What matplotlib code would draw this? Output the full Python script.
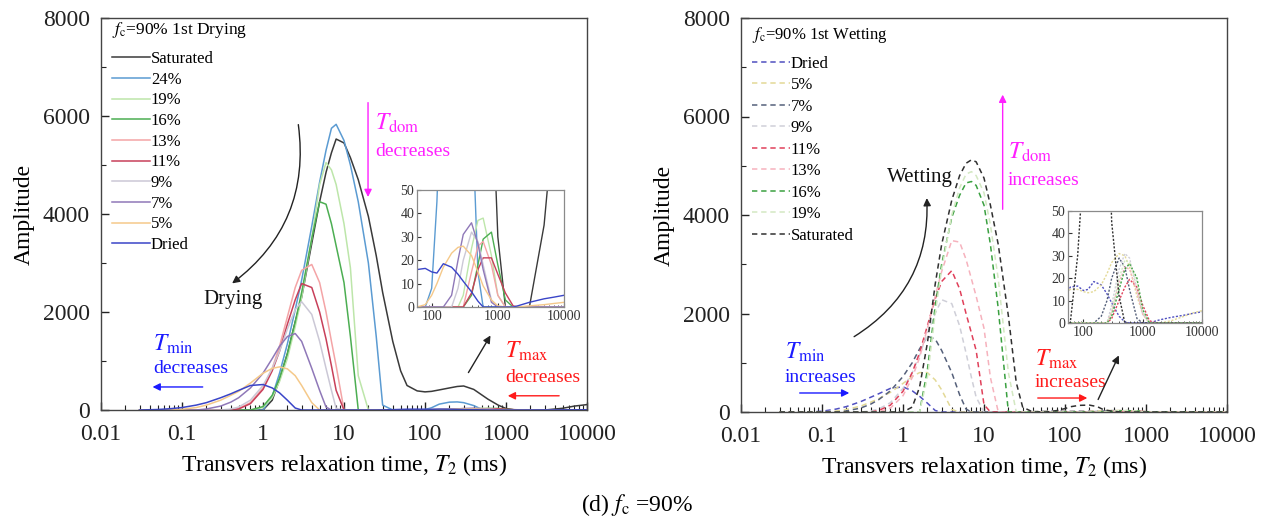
import numpy as np
import matplotlib
matplotlib.use('Agg')
import matplotlib.pyplot as plt
from matplotlib.ticker import LogLocator, NullFormatter, MultipleLocator

plt.rcParams['font.family'] = ['Liberation Serif', 'DejaVu Serif']
plt.rcParams['mathtext.fontset'] = 'stix'

# ---------------- data ----------------
t2_ms = [0.03, 0.05, 0.07, 0.1, 0.15, 0.2, 0.3, 0.4, 0.5, 0.7,
         1, 1.3, 1.6, 2, 2.5, 3, 4, 5, 6, 7,
         8, 10, 12, 15, 20, 25, 30, 40, 50, 60,
         80, 100, 120, 150, 200, 250, 300, 400, 500, 600,
         800, 1000, 1300, 1700, 2000, 3000, 5000, 7000, 10000]

xtick_vals = [0.01, 0.1, 1, 10, 100, 1000, 10000]
xtick_labels = ['0.01', '0.1', '1', '10', '100', '1000', '10000']
ytick_vals = [0, 2000, 4000, 6000, 8000]
inset_xticks = [100, 1000, 10000]
inset_xlabels = ['100', '1000', '10000']
inset_yticks = [0, 10, 20, 30, 40, 50]

drying_labels = ['Saturated', '24%', '19%', '16%', '13%', '11%', '9%', '7%', '5%', 'Dried']
drying_colors = ['#3a3a3a', '#5b9bd2', '#bde6aa', '#4cae52', '#f4a4a6',
                 '#c8405a', '#cbc8d6', '#8f78b8', '#f5c98a', '#3a45c8']

dry_saturated = [0, 0, 0, 0, 0, 0, 0, 0, 0, 0,
                 0, 200, 620, 1150, 1800, 2300, 3400, 4250, 4850, 5250,
                 5530, 5450, 5150, 4700, 3950, 3150, 2400, 1400, 800, 500,
                 390, 370, 380, 410, 450, 480, 490, 420, 310, 220,
                 100, 30, 0, 0, 0, 0, 35, 80, 110]
dry_24 = [0, 0, 0, 0, 0, 0, 0, 0, 0, 0,
          0, 280, 750, 1350, 2050, 2650, 3750, 4650, 5300, 5750,
          5830, 5500, 5000, 4250, 3000, 1500, 100, 0, 0, 0,
          0, 8, 45, 120, 160, 165, 150, 90, 15, 0,
          0, 0, 0, 0, 0, 0, 0, 0, 0]
dry_19 = [0, 0, 0, 0, 0, 0, 0, 0, 0, 0,
          50, 250, 580, 1050, 1700, 2300, 3500, 4600, 5050, 4900,
          4600, 3800, 2900, 700, 0, 0, 0, 0, 0, 0,
          0, 0, 0, 0, 0, 0, 5, 25, 37, 38,
          22, 5, 0, 0, 0, 0, 0, 0, 0]
dry_16 = [0, 0, 0, 0, 0, 0, 0, 0, 0, 0,
          70, 300, 650, 1150, 1800, 2400, 3500, 4250, 4200, 3800,
          3350, 2600, 1500, 0, 0, 0, 0, 0, 0, 0,
          0, 0, 0, 0, 0, 0, 0, 5, 18, 29,
          32, 18, 3, 0, 0, 0, 0, 0, 0]
dry_13 = [0, 0, 0, 0, 0, 0, 0, 0, 30, 150,
          450, 850, 1300, 1900, 2500, 2850, 2970, 2600, 2000, 1400,
          900, 0, 0, 0, 0, 0, 0, 0, 0, 0,
          0, 0, 0, 0, 0, 0, 0, 15, 26, 28,
          18, 5, 0, 0, 0, 0, 0, 0, 0]
dry_11 = [0, 0, 0, 0, 0, 0, 0, 0, 20, 130,
          420, 800, 1200, 1750, 2250, 2580, 2500, 2000, 1450, 900,
          400, 0, 0, 0, 0, 0, 0, 0, 0, 0,
          0, 0, 0, 0, 0, 0, 0, 6, 16, 21,
          21, 14, 6, 0.5, 0, 0, 0, 0, 0]
dry_9 = [0, 0, 0, 0, 0, 0, 0, 20, 60, 200,
         500, 850, 1200, 1650, 2050, 2210, 1950, 1400, 850, 400,
         30, 0, 0, 0, 0, 0, 0, 0, 0, 0,
         0, 0, 0, 0, 0, 8, 20, 32, 28, 18,
         3, 0, 0, 0, 0, 0, 0, 0, 0]
dry_7 = [0, 0, 0, 0, 0, 20, 80, 160, 250, 450,
         750, 1050, 1300, 1500, 1560, 1400, 850, 400, 60, 0,
         0, 0, 0, 0, 0, 0, 0, 0, 0, 0,
         0, 0, 0, 0, 5, 20, 31, 36, 27, 16,
         2, 0, 0, 0, 0, 0, 0, 0, 0]
dry_5 = [0, 0, 0, 15, 50, 100, 200, 300, 380, 550,
         750, 850, 880, 840, 700, 500, 150, 0, 0, 0,
         0, 0, 0, 0, 0, 0, 0, 0, 0, 0,
         1, 5, 10, 17, 23, 25.5, 26, 22, 15, 9,
         3, 0.5, 0, 0, 0, 0.5, 1, 1.5, 2]
dry_dried = [0, 10, 25, 50, 100, 150, 250, 330, 400, 500,
             520, 450, 350, 200, 40, 0, 0, 0, 0, 0,
             0, 0, 0, 0, 0, 0, 2, 7, 12, 16,
             16.5, 15, 14.5, 18.5, 17, 14, 11, 6.5, 2.5, 0,
             0, 0, 0, 0, 0.5, 2, 3.5, 4.2, 5]

wetting_labels = ['Dried', '5%', '7%', '9%', '11%', '13%', '16%', '19%', 'Saturated']
wetting_colors = ['#5050c0', '#e3d996', '#55607a', '#cfcfd8', '#e0405a',
                  '#f6b2bd', '#3aa040', '#d3e8c2', '#303030']

wet_dried = [0, 0, 0, 15, 60, 110, 210, 300, 370, 480,
             510, 430, 320, 180, 30, 0, 0, 0, 0, 0,
             0, 0, 0, 0, 0, 0, 2, 7, 12, 16,
             16.5, 14.5, 15, 18.5, 17, 13, 9, 3, 0.5, 0,
             0, 0, 0, 1, 1.5, 2.5, 3.5, 4.3, 5]
wet_5 = [0, 0, 0, 0, 20, 50, 120, 200, 270, 400,
         580, 720, 800, 800, 650, 450, 50, 0, 0, 0,
         0, 0, 0, 0, 0, 0, 3, 9, 13, 15,
         15, 14, 13.5, 14, 17, 22, 27, 31, 30, 25,
         12, 4, 0, 0, 0, 1, 3, 4.5, 5.5]
wet_7 = [0, 0, 0, 0, 0, 20, 80, 160, 250, 430,
         720, 1000, 1280, 1540, 1480, 1250, 800, 350, 60, 0,
         0, 0, 0, 0, 0, 0, 0, 0, 0, 0,
         0, 0, 0, 0, 3, 10, 20, 29, 25, 15,
         2, 0, 0, 0, 0, 0, 0, 0, 0]
wet_9 = [0, 0, 0, 0, 0, 0, 0, 20, 60, 190,
         480, 800, 1150, 1600, 2000, 2280, 2200, 1750, 1200, 700,
         300, 0, 0, 0, 0, 0, 0, 0, 0, 0,
         0, 0, 0, 0, 0, 0, 8, 24, 31, 29,
         15, 4, 0, 0, 0, 0, 0, 0, 0]
wet_11 = [0, 0, 0, 0, 0, 0, 0, 0, 30, 140,
          420, 800, 1200, 1750, 2300, 2650, 2870, 2500, 2000, 1600,
          1250, 150, 0, 0, 0, 0, 0, 0, 0, 0,
          0, 0, 0, 0, 0, 0, 2, 10, 16, 19.5,
          16, 8, 1, 0, 0, 0, 0, 0, 0]
wet_13 = [0, 0, 0, 0, 0, 0, 0, 0, 0, 80,
          330, 700, 1100, 1700, 2350, 2850, 3480, 3450, 3100, 2700,
          2350, 1700, 700, 0, 0, 0, 0, 0, 0, 0,
          0, 0, 0, 0, 0, 0, 5, 18, 25, 24,
          14, 4, 0, 0, 0, 0, 0, 0, 0]
wet_16 = [0, 0, 0, 0, 0, 0, 0, 0, 0, 0,
          0, 0, 0, 850, 2150, 3000, 3950, 4400, 4650, 4680,
          4600, 4200, 3400, 2100, 0, 0, 0, 0, 0, 0,
          0, 0, 0, 0, 0, 0, 3, 15, 24, 26.5,
          20, 6, 0, 0, 0, 0, 0, 0, 0]
wet_19 = [0, 0, 0, 0, 0, 0, 0, 0, 0, 0,
          0, 0, 0, 700, 2000, 2900, 4000, 4550, 4830, 4880,
          4800, 4450, 3800, 2700, 800, 0, 0, 0, 0, 0,
          0, 0, 0, 0, 0, 0, 5, 20, 28, 27,
          18, 5, 0, 0, 0, 0, 0, 0, 0]
wet_saturated = [0, 0, 0, 0, 0, 0, 0, 0, 0, 0,
                 0, 100, 500, 1400, 2600, 3400, 4300, 4800, 5050, 5120,
                 5080, 4750, 4200, 3400, 1950, 600, 100, 0, 0, 0,
                 30, 70, 110, 135, 140, 110, 45, 12, 0, 0,
                 0, 0, 0, 0, 0, 0, 0, 0, 0]

drying_series = [dry_saturated, dry_24, dry_19, dry_16, dry_13, dry_11, dry_9, dry_7, dry_5, dry_dried]
wetting_series = [wet_dried, wet_5, wet_7, wet_9, wet_11, wet_13, wet_16, wet_19, wet_saturated]

# ---------------- figure ----------------
W, H = 1269, 527
fig = plt.figure(figsize=(W / 100, H / 100), dpi=100)
axL = fig.add_axes([101 / W, 1 - 410 / H, 486 / W, 392 / H])
axR = fig.add_axes([741 / W, 1 - 412 / H, 486 / W, 394 / H])
insL = fig.add_axes([417 / W, 1 - 307 / H, 147 / W, 117 / H])
insR = fig.add_axes([1068 / W, 1 - 323 / H, 134 / W, 112 / H])

x = np.array(t2_ms)
DASH = (3.5, 2.5)

for vals, lab, col in zip(drying_series, drying_labels, drying_colors):
    axL.plot(x, vals, color=col, lw=1.1, label=lab)
    insL.plot(x, vals, color=col, lw=1.0)

for vals, lab, col in zip(wetting_series, wetting_labels, wetting_colors):
    axR.plot(x, vals, color=col, lw=1.1, ls=(0, DASH), label=lab)
    insR.plot(x, vals, color=col, lw=1.0, ls=(0, (1.5, 1.2)))


def style_main(ax):
    ax.set_xscale('log')
    ax.set_xlim(0.01, 10000)
    ax.set_ylim(0, 8000)
    ax.set_xticks(xtick_vals)
    ax.set_xticklabels(xtick_labels)
    ax.xaxis.set_minor_locator(LogLocator(base=10, subs=np.arange(2, 10), numticks=30))
    ax.xaxis.set_minor_formatter(NullFormatter())
    ax.set_yticks(ytick_vals)
    ax.yaxis.set_minor_locator(MultipleLocator(1000))
    ax.tick_params(which='both', direction='in', top=False, right=False, labelsize=17, colors='#222222')
    ax.tick_params(axis='x', which='major', length=6, width=1, pad=10)
    ax.tick_params(axis='y', which='major', length=6, width=1, pad=8)
    ax.tick_params(which='minor', length=3.5, width=0.8)
    for s in ax.spines.values():
        s.set_color('#444444')
        s.set_linewidth(1.0)
    ax.set_xlabel(r'Transvers relaxation time, $T_2$ (ms)', fontsize=17, labelpad=5)
    ax.set_ylabel('Amplitude', fontsize=17, labelpad=6)


def style_inset(ax, xmin):
    ax.set_xscale('log')
    ax.set_xlim(xmin, 10000)
    ax.set_ylim(0, 50)
    ax.set_xticks(inset_xticks)
    ax.set_xticklabels(inset_xlabels)
    ax.xaxis.set_minor_locator(LogLocator(base=10, subs=np.arange(2, 10), numticks=30))
    ax.xaxis.set_minor_formatter(NullFormatter())
    ax.set_yticks(inset_yticks)
    ax.tick_params(which='both', direction='in', labelsize=10, pad=2, colors='#333333')
    ax.tick_params(which='major', length=3)
    ax.tick_params(which='minor', length=1.8)
    for s in ax.spines.values():
        s.set_color('#8a8a8a')
        s.set_linewidth(0.9)


style_main(axL)
style_main(axR)
style_inset(insL, 60)
style_inset(insR, 55)

legL = axL.legend(loc='upper left', bbox_to_anchor=(0.022, 0.995), frameon=False,
                  fontsize=12, title=r'$f_{\rm c}$=90% 1st Drying', title_fontsize=12.5,
                  handlelength=2.3, handletextpad=0.05, labelspacing=0.28,
                  borderaxespad=0, borderpad=0)
legL._legend_box.align = 'left'
legL._legend_box.sep = 8
legR = axR.legend(loc='upper left', bbox_to_anchor=(0.022, 0.982), frameon=False,
                  fontsize=12, title=r'$f_{\rm c}$=90% 1st Wetting', title_fontsize=12,
                  handlelength=2.3, handletextpad=0.05, labelspacing=0.33,
                  borderaxespad=0, borderpad=0)
legR._legend_box.align = 'left'
legR._legend_box.sep = 7.5

BLUE, RED, MAG = '#1a1aff', '#ff1a1a', '#ff20ff'
arw = dict(arrowstyle='-|>', lw=1.0, mutation_scale=11)

# ---- left annotations ----
axL.annotate('', xy=(0.39, 2550), xytext=(2.7, 5880),
             arrowprops=dict(arw, color='#222222', connectionstyle='arc3,rad=-0.3'))
axL.text(0.43, 2245, 'Drying', fontsize=15, ha='center', va='center', color='#111111')
axL.text(0.0438, 1330, r'$T_{\rm min}$', fontsize=17, color=BLUE, ha='left', va='center')
axL.text(0.0438, 840, 'decreases', fontsize=14, color=BLUE, ha='left', va='center')
axL.annotate('', xy=(0.040, 470), xytext=(0.195, 470), arrowprops=dict(arw, color=BLUE))
axL.annotate('', xy=(19.8, 4290), xytext=(19.8, 6330), arrowprops=dict(arw, color=MAG))
axL.text(24, 5860, r'$T_{\rm dom}$', fontsize=17, color=MAG, ha='left', va='center')
axL.text(24, 5270, 'decreases', fontsize=14, color=MAG, ha='left', va='center')
axL.text(972, 1190, r'$T_{\rm max}$', fontsize=17, color=RED, ha='left', va='center')
axL.text(990, 660, 'decreases', fontsize=14, color=RED, ha='left', va='center')
axL.annotate('', xy=(972, 290), xytext=(4900, 290), arrowprops=dict(arw, color=RED))
axL.annotate('', xy=(670, 1570), xytext=(330, 715), arrowprops=dict(arw, color='#222222'))

# ---- right annotations ----
axR.annotate('', xy=(1.96, 4400), xytext=(0.233, 1500),
             arrowprops=dict(arw, color='#222222', connectionstyle='arc3,rad=0.3'))
axR.text(1.62, 4770, 'Wetting', fontsize=15, ha='center', va='center', color='#111111')
axR.text(0.0348, 1220, r'$T_{\rm min}$', fontsize=17, color=BLUE, ha='left', va='center')
axR.text(0.0348, 710, 'increases', fontsize=14, color=BLUE, ha='left', va='center')
axR.annotate('', xy=(0.235, 386), xytext=(0.049, 386), arrowprops=dict(arw, color=BLUE))
axR.annotate('', xy=(17.0, 6500), xytext=(17.0, 4060), arrowprops=dict(arw, color=MAG))
axR.text(19.8, 5280, r'$T_{\rm dom}$', fontsize=17, color=MAG, ha='left', va='center')
axR.text(19.8, 4710, 'increases', fontsize=14, color=MAG, ha='left', va='center')
axR.text(42.6, 1060, r'$T_{\rm max}$', fontsize=17, color=RED, ha='left', va='center')
axR.text(42.6, 590, 'increases', fontsize=14, color=RED, ha='left', va='center')
axR.annotate('', xy=(204, 284), xytext=(42.6, 284), arrowprops=dict(arw, color=RED))
axR.annotate('', xy=(478, 1200), xytext=(248, 203), arrowprops=dict(arw, color='#222222'))

fig.text(637 / W, 1 - 505 / H, r'(d) $f_{\rm c}$ =90%', fontsize=17, ha='center', va='center')

fig.savefig('out.png', dpi=100)
